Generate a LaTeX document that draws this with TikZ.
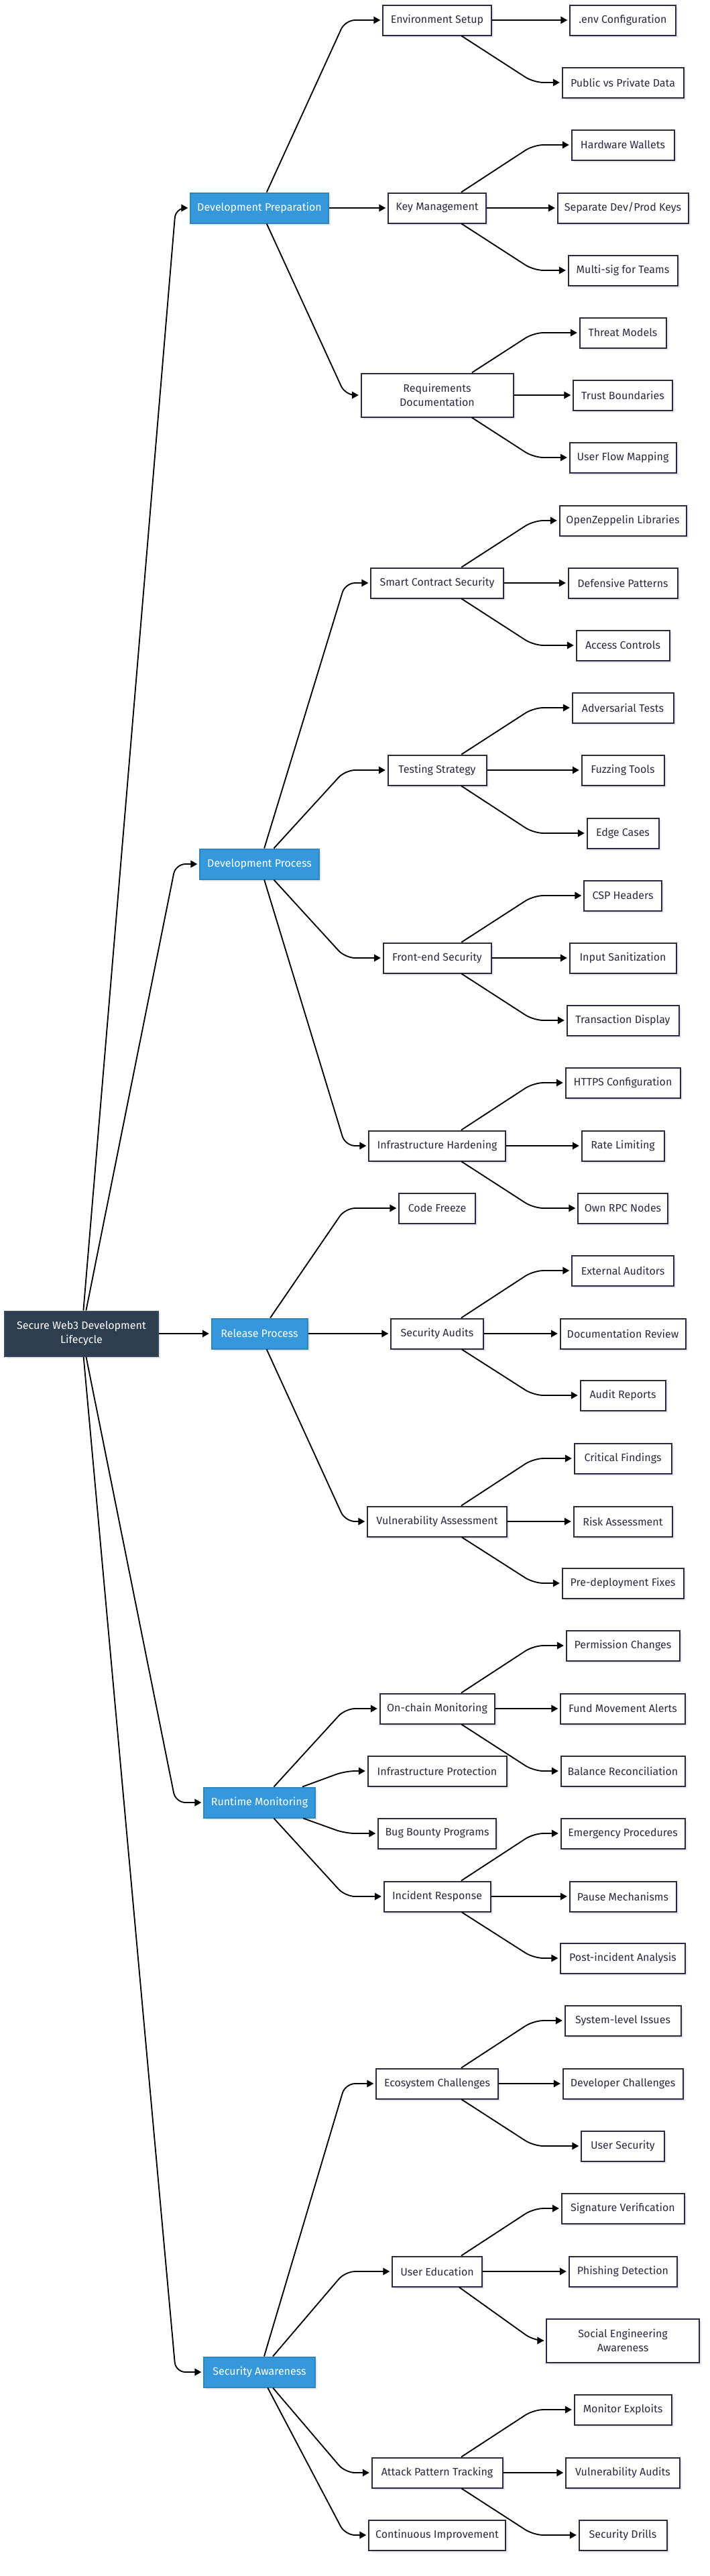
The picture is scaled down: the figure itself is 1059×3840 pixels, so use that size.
\documentclass[tikz,border=0pt]{standalone}
\usepackage{fontspec}
\setmainfont{Fira Sans}
\usetikzlibrary{arrows.meta,shadows}
\definecolor{inkc}{HTML}{2B2A40}
\definecolor{catfill}{HTML}{3498DB}
\definecolor{catline}{HTML}{2E86C1}
\definecolor{rootfill}{HTML}{2C3E50}
\definecolor{rootline}{HTML}{34495E}
\definecolor{shadowc}{HTML}{E9E9ED}
\begin{document}
\begin{tikzpicture}[x=0.75pt,y=-0.75pt,
  box/.style={rectangle, draw=inkc, line width=1.5pt, fill=white, text=inkc,
    font=\fontsize{12pt}{15.75pt}\selectfont, align=center, inner sep=0pt,
    minimum height=33.75pt,
    drop shadow={shadow xshift=2.6pt,shadow yshift=-2.6pt,fill=shadowc,opacity=1}},
  bw/.style={minimum width=#1*0.75pt},
  cat/.style={box, draw=catline, fill=catfill, text=white},
  rootbox/.style={box, draw=rootline, fill=rootfill, text=white, minimum height=50.25pt},
  tall/.style={minimum height=48.75pt},
  edge/.style={draw=black, line width=1.4pt, -{Triangle[length=7.5pt,width=8pt]},
    shorten >=2pt, rounded corners=11pt},
]
\useasboundingbox (0,0) rectangle (1059,3840);
\coordinate (kr) at (262,0);
\coordinate (kc) at (515,0);
\coordinate (kl) at (796,0);

% root
\node[rootbox,bw=229] (root) at (121.5,1988) {Secure Web3 Development\\Lifecycle};

% categories
\node[cat,bw=206] (prep) at (387,310) {Development Preparation};
\node[cat,bw=178] (proc) at (387,1288) {Development Process};
\node[cat,bw=143] (rel) at (387,1988) {Release Process};
\node[cat,bw=166] (run) at (387,2687) {Runtime Monitoring};
\node[cat,bw=166] (aware) at (387,3536) {Security Awareness};

% middle column
\node[box,bw=162] (env) at (652,30) {Environment Setup};
\node[box,bw=146] (key) at (652,310) {Key Management};
\node[box,bw=227,tall] (req) at (652,589) {Requirements\\Documentation};
\node[box,bw=198] (scs) at (652,869) {Smart Contract Security};
\node[box,bw=147] (test) at (652,1148) {Testing Strategy};
\node[box,bw=161] (fe) at (652,1428) {Front-end Security};
\node[box,bw=204] (infh) at (652,1708) {Infrastructure Hardening};
\node[box,bw=114] (cf) at (652,1801) {Code Freeze};
\node[box,bw=138] (sa) at (652,1988) {Security Audits};
\node[box,bw=208] (va) at (652,2268) {Vulnerability Assessment};
\node[box,bw=171] (ocm) at (652,2547) {On-chain Monitoring};
\node[box,bw=207] (infp) at (652,2640) {Infrastructure Protection};
\node[box,bw=176] (bb) at (652,2733) {Bug Bounty Programs};
\node[box,bw=159] (ir) at (652,2827) {Incident Response};
\node[box,bw=182] (eco) at (652,3106) {Ecosystem Challenges};
\node[box,bw=134] (ue) at (652,3386) {User Education};
\node[box,bw=195] (apt) at (652,3686) {Attack Pattern Tracking};
\node[box,bw=204] (ci) at (652,3779) {Continuous Improvement};

% leaves
\node[box,bw=158] (l0) at (929,30) {.env Configuration};
\node[box,bw=181] (l1) at (929,123) {Public vs Private Data};
\node[box,bw=153] (l2) at (929,216) {Hardware Wallets};
\node[box,bw=195] (l3) at (929,310) {Separate Dev/Prod Keys};
\node[box,bw=163] (l4) at (929,403) {Multi-sig for Teams};
\node[box,bw=129] (l5) at (929,496) {Threat Models};
\node[box,bw=148] (l6) at (929,589) {Trust Boundaries};
\node[box,bw=159] (l7) at (929,682) {User Flow Mapping};
\node[box,bw=189] (l8) at (929,776) {OpenZeppelin Libraries};
\node[box,bw=163] (l9) at (929,869) {Defensive Patterns};
\node[box,bw=139] (l10) at (929,962) {Access Controls};
\node[box,bw=151] (l11) at (929,1055) {Adversarial Tests};
\node[box,bw=123] (l12) at (929,1148) {Fuzzing Tools};
\node[box,bw=107] (l13) at (929,1242) {Edge Cases};
\node[box,bw=116] (l14) at (929,1335) {CSP Headers};
\node[box,bw=159] (l15) at (929,1428) {Input Sanitization};
\node[box,bw=167] (l16) at (929,1521) {Transaction Display};
\node[box,bw=171] (l17) at (929,1614) {HTTPS Configuration};
\node[box,bw=123] (l18) at (929,1708) {Rate Limiting};
\node[box,bw=134] (l19) at (929,1801) {Own RPC Nodes};
\node[box,bw=152] (l20) at (929,1894) {External Auditors};
\node[box,bw=187] (l21) at (929,1988) {Documentation Review};
\node[box,bw=127] (l22) at (929,2080) {Audit Reports};
\node[box,bw=145] (l23) at (929,2174) {Critical Findings};
\node[box,bw=147] (l24) at (929,2268) {Risk Assessment};
\node[box,bw=181] (l25) at (929,2360) {Pre-deployment Fixes};
\node[box,bw=169] (l26) at (929,2453) {Permission Changes};
\node[box,bw=186] (l27) at (929,2547) {Fund Movement Alerts};
\node[box,bw=185] (l28) at (929,2640) {Balance Reconciliation};
\node[box,bw=185] (l29) at (929,2733) {Emergency Procedures};
\node[box,bw=159] (l30) at (929,2827) {Pause Mechanisms};
\node[box,bw=186] (l31) at (929,2919) {Post-incident Analysis};
\node[box,bw=173] (l32) at (929,3012) {System-level Issues};
\node[box,bw=179] (l33) at (929,3106) {Developer Challenges};
\node[box,bw=124] (l34) at (929,3199) {User Security};
\node[box,bw=183] (l35) at (929,3292) {Signature Verification};
\node[box,bw=161] (l36) at (929,3386) {Phishing Detection};
\node[box,bw=228,tall] (l37) at (929,3489) {Social Engineering\\Awareness};
\node[box,bw=145] (l38) at (929,3592) {Monitor Exploits};
\node[box,bw=170] (l39) at (929,3686) {Vulnerability Audits};
\node[box,bw=131] (l40) at (929,3779) {Security Drills};

% root -> categories
\draw[edge] (root) -- (kr |- prep) -- (prep.west);
\draw[edge] (root) -- (kr |- proc) -- (proc.west);
\draw[edge] (root) -- (rel);
\draw[edge] (root) -- (kr |- run) -- (run.west);
\draw[edge] (root) -- (kr |- aware) -- (aware.west);

% categories -> middle
\draw[edge] (prep) -- (kc |- env) -- (env.west);
\draw[edge] (prep) -- (key);
\draw[edge] (prep) -- (kc |- req) -- (req.west);
\draw[edge] (proc) -- (kc |- scs) -- (scs.west);
\draw[edge] (proc) -- (kc |- test) -- (test.west);
\draw[edge] (proc) -- (kc |- fe) -- (fe.west);
\draw[edge] (proc) -- (kc |- infh) -- (infh.west);
\draw[edge] (rel) -- (kc |- cf) -- (cf.west);
\draw[edge] (rel) -- (sa);
\draw[edge] (rel) -- (kc |- va) -- (va.west);
\draw[edge] (run) -- (kc |- ocm) -- (ocm.west);
\draw[edge] (run) -- (kc |- infp) -- (infp.west);
\draw[edge] (run) -- (kc |- bb) -- (bb.west);
\draw[edge] (run) -- (kc |- ir) -- (ir.west);
\draw[edge] (aware) -- (kc |- eco) -- (eco.west);
\draw[edge] (aware) -- (kc |- ue) -- (ue.west);
\draw[edge] (aware) -- (kc |- apt) -- (apt.west);
\draw[edge] (aware) -- (kc |- ci) -- (ci.west);

% middle -> leaves
\draw[edge] (env) -- (l0);
\draw[edge] (env) -- (kl |- l1) -- (l1.west);
\draw[edge] (key) -- (kl |- l2) -- (l2.west);
\draw[edge] (key) -- (l3);
\draw[edge] (key) -- (kl |- l4) -- (l4.west);
\draw[edge] (req) -- (kl |- l5) -- (l5.west);
\draw[edge] (req) -- (l6);
\draw[edge] (req) -- (kl |- l7) -- (l7.west);
\draw[edge] (scs) -- (kl |- l8) -- (l8.west);
\draw[edge] (scs) -- (l9);
\draw[edge] (scs) -- (kl |- l10) -- (l10.west);
\draw[edge] (test) -- (kl |- l11) -- (l11.west);
\draw[edge] (test) -- (l12);
\draw[edge] (test) -- (kl |- l13) -- (l13.west);
\draw[edge] (fe) -- (kl |- l14) -- (l14.west);
\draw[edge] (fe) -- (l15);
\draw[edge] (fe) -- (kl |- l16) -- (l16.west);
\draw[edge] (infh) -- (kl |- l17) -- (l17.west);
\draw[edge] (infh) -- (l18);
\draw[edge] (infh) -- (kl |- l19) -- (l19.west);
\draw[edge] (sa) -- (kl |- l20) -- (l20.west);
\draw[edge] (sa) -- (l21);
\draw[edge] (sa) -- (kl |- l22) -- (l22.west);
\draw[edge] (va) -- (kl |- l23) -- (l23.west);
\draw[edge] (va) -- (l24);
\draw[edge] (va) -- (kl |- l25) -- (l25.west);
\draw[edge] (ocm) -- (kl |- l26) -- (l26.west);
\draw[edge] (ocm) -- (l27);
\draw[edge] (ocm) -- (kl |- l28) -- (l28.west);
\draw[edge] (ir) -- (kl |- l29) -- (l29.west);
\draw[edge] (ir) -- (l30);
\draw[edge] (ir) -- (kl |- l31) -- (l31.west);
\draw[edge] (eco) -- (kl |- l32) -- (l32.west);
\draw[edge] (eco) -- (l33);
\draw[edge] (eco) -- (kl |- l34) -- (l34.west);
\draw[edge] (ue) -- (kl |- l35) -- (l35.west);
\draw[edge] (ue) -- (l36);
\draw[edge] (ue) -- (kl |- l37) -- (l37.west);
\draw[edge] (apt) -- (kl |- l38) -- (l38.west);
\draw[edge] (apt) -- (l39);
\draw[edge] (apt) -- (kl |- l40) -- (l40.west);
\end{tikzpicture}
\end{document}
